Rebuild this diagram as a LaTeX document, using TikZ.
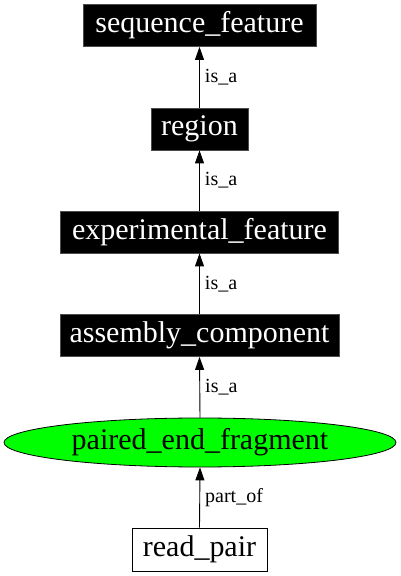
\documentclass[tikz,border=0pt]{standalone}
\usepackage{fontspec}
\setmainfont{Liberation Serif}
\usetikzlibrary{arrows.meta,shapes.geometric}
\tikzset{
  x=1pt,y=1pt,
  blackbox/.style={rectangle, fill=black, draw=black!70, line width=0.8pt, text=white, font=\fontsize{30}{34}\selectfont, inner sep=0pt, minimum height=42pt},
  whitebox/.style={rectangle, fill=white, draw=black, line width=0.8pt, text=black, font=\fontsize{30}{34}\selectfont, inner sep=0pt, minimum height=43pt},
  greenell/.style={ellipse, fill=green, draw=black, line width=0.8pt, font=\fontsize{30}{34}\selectfont, inner sep=0pt, minimum height=49pt},
  rel/.style={draw=black, line width=0.9pt, -{Triangle[length=13pt,width=9pt]}},
  rellabel/.style={font=\fontsize{20}{23}\selectfont, anchor=west, inner sep=0pt, xshift=5pt}
}
\begin{document}
\begin{tikzpicture}
\useasboundingbox (0,0) rectangle (400,576);
\node[blackbox, minimum width=233pt] (sf) at (199.5,550.5) {sequence\_feature};
\node[blackbox, minimum width=97pt] (rg) at (199.5,447) {region};
\node[blackbox, minimum width=278pt] (ef) at (199.5,344) {experimental\_feature};
\node[blackbox, minimum width=279pt] (ac) at (199.5,240.5) {assembly\_component};
\node[greenell, minimum width=392pt] (pef) at (200,133.5) {paired\_end\_fragment};
\node[whitebox, minimum width=135pt] (rp) at (199.5,26.5) {read\_pair};
\draw[rel] (rg.north) -- node[rellabel] {is\_a} (sf.south);
\draw[rel] (ef.north) -- node[rellabel] {is\_a} (rg.south);
\draw[rel] (ac.north) -- node[rellabel] {is\_a} (ef.south);
\draw[rel] (pef.north) -- node[rellabel] {is\_a} (ac.south);
\draw[rel] (rp.north) -- node[rellabel] {part\_of} (pef.south);
\end{tikzpicture}
\end{document}
